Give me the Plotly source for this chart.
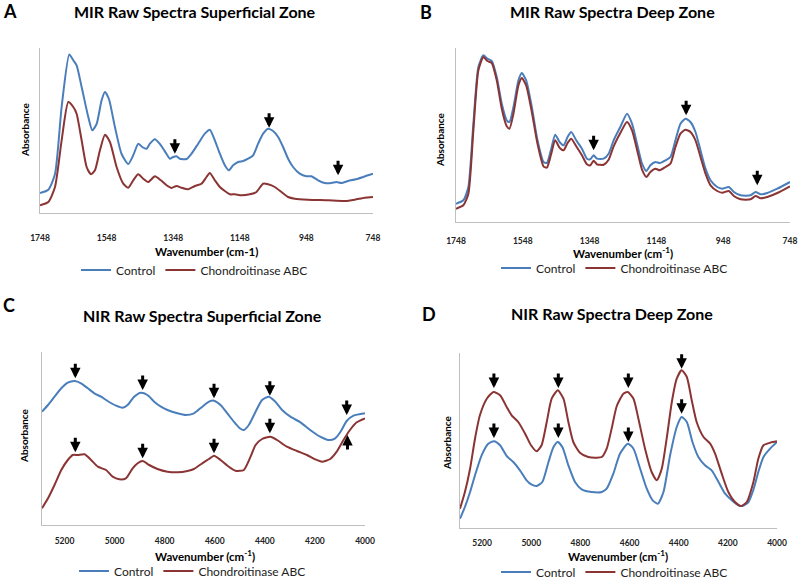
import plotly.graph_objects as go

# ---------------- DATA (absorbance in arbitrary units) -------------
# Panel A: MIR superficial zone
a_ctrl_wn = [1748,1723,1703,1683,1660,1648,1638,1623,1603,1591,1578,1563,1553,1541,1523,1503,1483,1468,1453,1441,
             1428,1418,1403,1388,1378,1368,1358,1348,1338,1328,1308,1293,1273,1253,1238,1223,1208,1193,1181,1168,
             1153,1138,1123,1108,1093,1078,1063,1048,1033,1018,1003,988,968,948,933,913,893,873,858,843,823,793,763,748]
a_ctrl_ab = [20,23.3,39,106,158.5,152.7,147.7,126,96,82.7,89,112.7,121,114,86,59,49,57.7,69.3,66,
             64.3,69.3,73.7,69,64.3,59,54.3,56,56.7,54.3,54,59.3,69.3,79.3,83.3,72.7,59.3,47.7,42.7,47.7,
             51,52,54.3,57.7,69.3,79.3,84.3,82,76,66,54.3,46,39.3,36.7,36.7,32.7,30,30,31,30,32,34.3,37.7,39.3]
a_chab_wn = [1748,1723,1703,1683,1663,1648,1638,1623,1608,1595,1583,1568,1553,1538,1518,1498,1483,1468,1453,1438,
             1423,1403,1385,1368,1353,1338,1323,1303,1283,1263,1248,1238,1223,1208,1193,1178,1163,1143,1118,1098,
             1078,1063,1043,1023,1003,983,943,883,833,803,773,748]
a_chab_ab = [7.7,11,26,72.7,111,106,99.3,72.7,46,38.7,42.7,62.7,78.3,71,46,29.3,25.3,32.7,38.7,34.3,
             31,36.7,32.7,27.7,25,27,25.3,23.7,27,29.3,36,40,32.7,26,22,18.7,18.7,17.7,18.7,21,
             29.3,28.7,26,21,16,14.3,13.3,12.7,12,13.3,15.3,16]

# Panel B: MIR deep zone
b_wn = [1748,1726,1711,1696,1681,1666,1654,1641,1626,1611,1596,1588,1576,1561,1551,1538,1521,1504,1486,1476,
        1464,1451,1438,1426,1414,1403,1388,1371,1356,1346,1336,1326,1306,1291,1276,1256,1236,1221,1206,1191,
        1178,1166,1151,1138,1121,1106,1091,1076,1061,1046,1031,1016,1001,986,966,951,931,916,896,866,
        851,836,816,786,748]
b_ctrl_ab = [18.3,21.7,35,98.3,155,166.7,163.3,161,145,118.3,101.7,100,115,141.7,149,141.7,115,81.7,60,59,
             71.7,87.3,80,76.7,85,90,81.7,73.3,63.3,62.7,66.7,63.3,63.3,68.3,81.7,95,108.3,98.3,78.3,58.3,
             51,56.7,60,59,61.7,65,81.7,98.3,103.3,100,90,71.7,53.3,41.7,35,33.3,35,30,26.7,26.7,
             30,27.7,29,33.3,40]
b_chab_ab = [13.3,16.7,28.3,91.7,151.7,165,161,159,141.7,113.3,95.7,93.3,108.3,136.7,144,136.7,110,78.3,55.7,54.3,
             66.7,81.7,74.3,71.7,79,83.3,75.7,66.7,57.7,56.7,61.3,57.7,57.3,62.3,75.7,89,100,91.7,72.3,52.3,
             45,50,53.3,51.7,55,58.3,75,88.3,92.3,90,81.7,65,48.3,36.7,31,29.3,31,26,22.7,22.7,
             26,23.7,25,29,35.7]

# Panel C: NIR superficial zone
c_ctrl_wn = [5290,5266,5240,5213,5187,5160,5134,5107,5081,5054,5028,4994,4968,4948,4922,4895,4869,4842,4815,4789,
             4749,4716,4683,4650,4623,4603,4577,4550,4524,4500,4484,4464,4437,4411,4384,4358,4331,4298,4258,4219,
             4179,4146,4119,4099,4073,4046,4000]
c_ctrl_ab = [113.3,120,128.3,136.7,142.3,144,141.7,136.7,131.7,128.3,124,119.3,117.3,120,128.3,132.3,130,123.3,118.3,115,
             111.7,110,111.7,118.3,123.3,124.3,120,111.7,103.3,96.7,95,100,113.3,125,128.3,123.3,115,108.3,102.7,95,
             88.3,85,86.7,92.7,104,109.3,111.7]
c_chab_wn = [5290,5266,5240,5213,5187,5167,5147,5120,5094,5067,5034,5008,4981,4955,4928,4908,4888,4862,4829,4789,
             4749,4709,4683,4650,4623,4603,4577,4544,4517,4484,4457,4437,4411,4378,4351,4312,4272,4232,4199,4172,
             4139,4113,4086,4060,4033,4000]
c_chab_ab = [16.7,26.7,40,55,65,70,70,70.7,65,58.3,55,48.3,45.7,46.7,56.7,61.7,64,60,56,53.3,
             52.7,54,56,61.7,66,69.3,65,58.3,54.3,55,68.3,80,86,88.3,85,78.3,74,70,65.7,63.3,
             66,73.3,85,95,102.7,106.7]

# Panel D: NIR deep zone
d_ctrl_wn = [5290,5270,5249,5229,5202,5175,5152,5127,5100,5073,5046,5019,4998,4978,4955,4930,4910,4892,4873,4849,
             4822,4795,4754,4713,4693,4666,4639,4607,4584,4557,4530,4506,4485,4462,4435,4408,4388,4367,4344,4320,
             4293,4266,4238,4211,4184,4157,4141,4116,4096,4076,4055,4028,4000]
d_ctrl_ab = [9.3,21,36,52.7,72.7,84.3,86.7,82.7,72,66,57.7,47.7,43.3,42,46,66,80.7,86,80.7,62.7,
             46,38.7,36,36,39.3,54.3,74.3,84.3,79.3,59.3,39.3,27.7,24.3,36,72.7,101,111,106,86,71,
             62.7,57.7,46,34.3,27.7,22.7,22,26,38.3,56,71,79.3,86]
d_chab_wn = [5290,5270,5249,5229,5209,5181,5154,5127,5100,5080,5053,5025,5001,4978,4958,4937,4917,4892,4869,4849,
             4829,4802,4768,4734,4713,4693,4673,4652,4625,4607,4584,4564,4537,4510,4489,4469,4449,4428,4408,4388,
             4367,4347,4327,4299,4272,4252,4225,4198,4171,4146,4123,4096,4076,4055,4028,4000]
d_chab_ab = [19.3,36,59.3,89.3,112.7,129.3,136,132.7,121,112.7,106,94.3,82.7,76.7,82.7,106,129.3,137.7,129.3,106,
             86,75.3,71,70.3,71,79.3,99.3,122,134.3,136,129.3,109.3,79.3,56,47.7,59.3,89.3,126,149.3,157.7,
             151,127.7,106,91,84.3,74.3,54.3,36,26,22,26,46,69.3,82.7,85.3,86.7]

# Marked bands (arrow tips): wavenumber, absorbance
a_marks_wn = [1343, 1060, 853];               a_marks_ab = [59.3, 85.3, 37.7]
b_marks_wn = [1336, 1059, 846];               b_marks_ab = [71.7, 106.7, 36.7]
c_marks_wn = [5157, 4888, 4603, 4380, 4073, 5157, 4888, 4603, 4380]
c_marks_ab = [146.7, 135, 126.7, 129.3, 110, 72.7, 66.7, 71.7, 91.7]
c_up_wn = [4070];                              c_up_ab = [90]
d_marks_wn = [5152, 4890, 4605, 4388, 5152, 4890, 4605, 4388]
d_marks_ab = [140, 140, 140, 159.3, 90, 90, 86, 114.3]

mir_ticks = [1748, 1548, 1348, 1148, 948, 748]
nir_ticks = [5200, 5000, 4800, 4600, 4400, 4200, 4000]

series_names = ["Control", "Chondroitinase ABC"]
panel_titles = ["MIR Raw Spectra Superficial Zone", "MIR Raw Spectra Deep Zone",
                "NIR Raw Spectra Superficial Zone", "NIR Raw Spectra Deep Zone"]
panel_letters = ["A", "B", "C", "D"]

# ---------------- STYLE -------------
BLUE = "#4A7EBB"
RED = "#8B3434"
FONT = "Lato"
W, H = 800, 579

fig = go.Figure()

def add_pair(idx, wn1, ab1, wn2, ab2, legend):
    sfx = "" if idx == 1 else str(idx)
    for wn, ab, name, col in [(wn1, ab1, series_names[0], BLUE), (wn2, ab2, series_names[1], RED)]:
        fig.add_trace(go.Scatter(x=wn, y=ab, mode="lines", name=name,
                                 line=dict(color=col, width=2, shape="spline", smoothing=0.6),
                                 xaxis="x" + sfx, yaxis="y" + sfx, legend=legend, showlegend=True))

add_pair(1, a_ctrl_wn, a_ctrl_ab, a_chab_wn, a_chab_ab, "legend")
add_pair(2, b_wn, b_ctrl_ab, b_wn, b_chab_ab, "legend2")
add_pair(3, c_ctrl_wn, c_ctrl_ab, c_chab_wn, c_chab_ab, "legend3")
add_pair(4, d_ctrl_wn, d_ctrl_ab, d_chab_wn, d_chab_ab, "legend4")

def px(x0, x1):
    return [x0 / W, x1 / W]

def py(top, bottom):
    return [1 - bottom / H, 1 - top / H]

# panel geometry in pixels: (left, right, top, bottom)
geo = {1: (40, 373, 48, 213), 2: (456, 790, 48, 222), 3: (42, 365, 352, 525), 4: (460, 777, 353, 528)}
xranges = {1: [1748, 748], 2: [1748, 748], 3: [5290, 4000], 4: [5290, 4000]}
tickv = {1: mir_ticks, 2: mir_ticks, 3: nir_ticks, 4: nir_ticks}
tlen = {1: 17, 2: 11, 3: 8, 4: 7}

layout = dict(width=W, height=H, margin=dict(l=0, r=0, t=0, b=0, autoexpand=False),
              paper_bgcolor="white", plot_bgcolor="white",
              font=dict(family=FONT, color="black"))
for i in range(1, 5):
    sfx = "" if i == 1 else str(i)
    l, r, t, b = geo[i]
    layout["xaxis" + sfx] = dict(domain=px(l, r), range=xranges[i], anchor="y" + sfx,
                                 tickvals=tickv[i], ticktext=["<b>%d</b>" % v for v in tickv[i]],
                                 showline=True, linecolor="#BFBFBF", linewidth=1,
                                 showgrid=False, zeroline=False, automargin=False,
                                 ticks="outside", ticklen=tlen[i], tickcolor="rgba(0,0,0,0)",
                                 tickfont=dict(family=FONT, size=8.5, color="#222"))
    layout["yaxis" + sfx] = dict(domain=py(t, b), range=[0, b - t], anchor="x" + sfx,
                                 showline=True, linecolor="#BFBFBF", linewidth=1, automargin=False,
                                 showgrid=False, zeroline=False, showticklabels=False, ticks="")

leg_pos = {"legend": (76, 270), "legend2": (496, 268), "legend3": (74, 571), "legend4": (496, 572)}
for k, (lx, ly) in leg_pos.items():
    layout[k] = dict(x=lx / W, y=1 - ly / H, xanchor="left", yanchor="middle", orientation="h",
                     bgcolor="rgba(0,0,0,0)", itemwidth=30, tracegroupgap=0,
                     font=dict(family=FONT, size=12, color="#222"))

ann = []
def text(x, y, s, size, bold=True, angle=0):
    ann.append(dict(xref="paper", yref="paper", x=x / W, y=1 - y / H, text=("<b>%s</b>" % s) if bold else s,
                    showarrow=False, xanchor="center", yanchor="middle", textangle=angle,
                    font=dict(family=FONT, size=size, color="black")))

# titles and letters
text(195, 12, panel_titles[0], 16)
text(612, 12, panel_titles[1], 16)
text(202, 315, panel_titles[2], 16)
text(612, 313, panel_titles[3], 16)
text(10, 11, panel_letters[0], 18)
text(426, 12, panel_letters[1], 18)
text(9, 305, panel_letters[2], 18)
text(429, 314, panel_letters[3], 18)
# axis titles
text(206, 251, "Wavenumber (cm-1)", 11.5)
text(623, 252, "Wavenumber (cm<sup>-1</sup>)", 11.5)
text(205, 555, "Wavenumber (cm<sup>-1</sup>)", 11.5)
text(618, 555, "Wavenumber (cm<sup>-1</sup>)", 11.5)
text(25, 130, "Absorbance", 10, angle=-90)
text(440, 140, "Absorbance", 10, angle=-90)
text(24, 436, "Absorbance", 10, angle=-90)
text(447, 443, "Absorbance", 10, angle=-90)

def arrows(idx, wns, abs_, up=False):
    sfx = "" if idx == 1 else str(idx)
    for x, y in zip(wns, abs_):
        ann.append(dict(xref="x" + sfx, yref="y" + sfx, x=x, y=y, text="", showarrow=True,
                        ax=0, ay=(16 if up else -16), arrowhead=2, arrowsize=0.7, arrowwidth=3,
                        arrowcolor="black", standoff=0))

arrows(1, a_marks_wn, a_marks_ab)
arrows(2, b_marks_wn, b_marks_ab)
arrows(3, c_marks_wn, c_marks_ab)
arrows(3, c_up_wn, c_up_ab, up=True)
arrows(4, d_marks_wn, d_marks_ab)

layout["annotations"] = ann
fig.update_layout(**layout)
fig.write_html("out.html", config={"displayModeBar": False},
               post_script="document.body.style.margin='0';document.body.style.overflow='hidden';")
